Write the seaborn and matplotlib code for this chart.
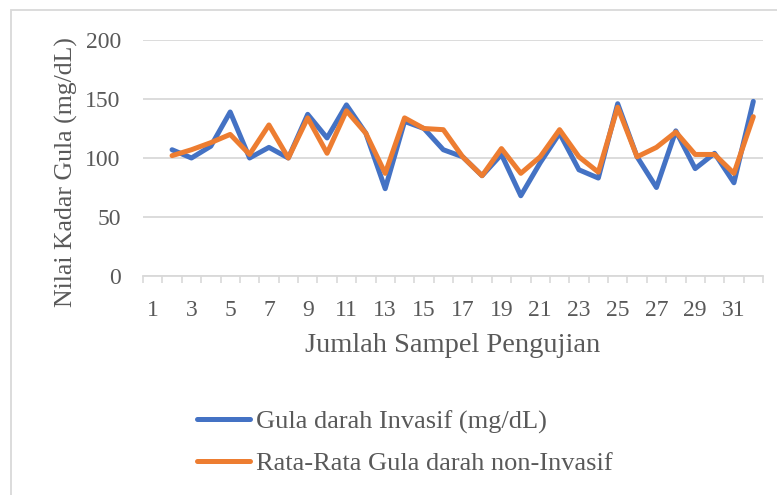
import pandas as pd
import matplotlib.pyplot as plt
import seaborn as sns

# Style
sns.set_theme(style="white")
plt.rcParams['font.family'] = ['Liberation Serif', 'DejaVu Serif']

# -------------------------------
# DATA
# -------------------------------
sample = list(range(2, 33))
invasif = [107, 100, 110, 139, 100, 109, 100, 137, 117, 145, 121, 74, 131, 125, 107, 101,
           85, 103, 68, 96, 121, 90, 83, 146, 101, 75, 123, 91, 104, 79, 148]
non_invasif = [102, 107, 113, 120, 103, 128, 100, 134, 104, 140, 121, 87, 134, 125, 124, 101,
               85, 108, 87, 101, 124, 101, 88, 143, 101, 109, 122, 103, 103, 87, 135]
series_names = ["Gula darah Invasif (mg/dL)", "Rata-Rata Gula darah non-Invasif"]
colors = ["#4472C4", "#ED7D31"]
x_ticks = list(range(1, 32, 2))

df = pd.DataFrame({
    "sampel": sample * 2,
    "nilai": invasif + non_invasif,
    "seri": [series_names[0]] * len(sample) + [series_names[1]] * len(sample),
})

text_color = "#595959"
grid_color = "#d9d9d9"

fig = plt.figure(figsize=(7.77, 4.95), dpi=100)
ax = fig.add_axes([143 / 777, 1 - 276 / 495, 620 / 777, 236 / 495])

sns.lineplot(data=df, x="sampel", y="nilai", hue="seri", palette=colors,
             linewidth=3.6, ax=ax, legend=False, zorder=3)

ax.set_xlim(0.5, 32.5)
ax.set_ylim(0, 200)
ax.set_yticks([0, 50, 100, 150, 200])
ax.set_xticks(x_ticks)
ax.set_xticks([i + 0.5 for i in range(0, 33)], minor=True)
ax.tick_params(axis="x", which="major", length=0, pad=17, labelsize=17, labelcolor=text_color)
ax.tick_params(axis="x", which="minor", length=5, width=1.2, color=grid_color, bottom=True)
ax.tick_params(axis="y", length=0, pad=16, labelsize=17, labelcolor=text_color)
ax.yaxis.grid(True, color=grid_color, linewidth=1.3)
ax.set_axisbelow(True)
for side in ["top", "right", "left"]:
    ax.spines[side].set_visible(False)
ax.spines["bottom"].set_color(grid_color)
ax.spines["bottom"].set_linewidth(1.3)

ax.set_xlabel("Jumlah Sampel Pengujian", fontsize=20.5, color=text_color, labelpad=9)
ax.set_ylabel("Nilai Kadar Gula (mg/dL)", fontsize=18.5, color=text_color)
ax.yaxis.set_label_coords(-0.105, 0.44)

# legend below the plot
handles = [plt.Line2D([], [], color=c, linewidth=3.6) for c in colors]
fig.legend(handles, series_names, loc="upper left", bbox_to_anchor=(173 / 777, 1 - 386 / 495),
           frameon=False, fontsize=19, labelcolor=text_color, handlelength=2.0,
           handletextpad=0.23, labelspacing=0.68)

# chart frame (partly cropped in the reference)
fig.add_artist(plt.Rectangle((11 / 777, -0.05), 1.1, 1 - 10 / 495 + 0.05,
                             transform=fig.transFigure, fill=False,
                             edgecolor=grid_color, linewidth=1.3))

fig.savefig("out.png", dpi=100)
